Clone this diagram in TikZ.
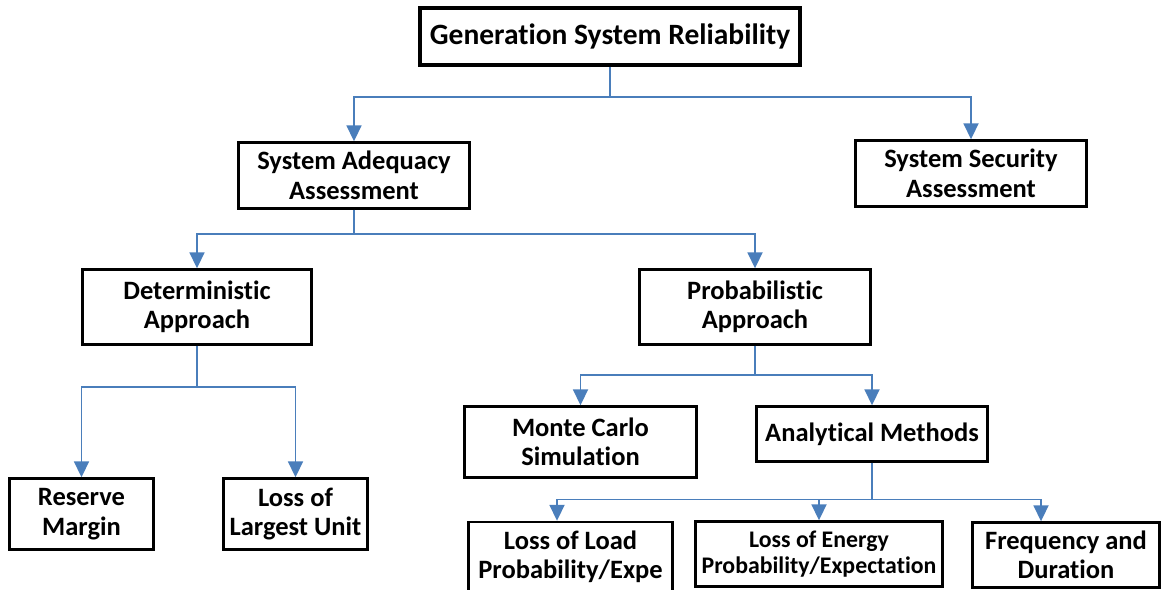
\documentclass[tikz,border=0pt]{standalone}
\usepackage{fontspec}
\setmainfont{Carlito}[Ligatures={NoCommon}]
\usetikzlibrary{arrows.meta}
\definecolor{linkblue}{HTML}{4A7EBB}
\begin{document}
\begin{tikzpicture}[x=1pt,y=-1pt,
  box/.style={draw=black, line width=2.4pt, fill=white, align=center,
    inner sep=0pt, font=\fontsize{26.5}{29.5}\selectfont\bfseries},
  conn/.style={draw=linkblue, line width=1.8pt,
    -{Triangle[length=16pt,width=15pt]}},
  link/.style={draw=linkblue, line width=1.8pt}]
\useasboundingbox (0,0) rectangle (1166,589);

% tree of boxes
\node[box, line width=3.4pt, minimum width=380pt, minimum height=57pt,
      font=\fontsize{29.5}{33}\selectfont\bfseries]
  (root) at (610,36.5) {Generation System Reliability};
\node[box, minimum width=231pt, minimum height=66pt] (saa) at (354,175.5) {System Adequacy\\Assessment};
\node[box, minimum width=231pt, minimum height=66pt] (ssa) at (971,173.5) {System Security\\Assessment};
\node[box, minimum width=229pt, minimum height=75pt] (det) at (197,307) {Deterministic\\Approach};
\node[box, minimum width=231pt, minimum height=75pt] (prob) at (755,307) {Probabilistic\\Approach};
\node[box, minimum width=232pt, minimum height=71pt] (mc) at (580.5,442) {Monte Carlo\\Simulation};
\node[box, minimum width=231pt, minimum height=55pt] (am) at (872,434) {Analytical Methods};
\node[box, minimum width=144pt, minimum height=71pt] (rm) at (81.5,514) {Reserve\\Margin};
\node[box, minimum width=144pt, minimum height=71pt] (llu) at (295.5,514) {Loss of\\Largest Unit};
\node[box, minimum width=204pt, minimum height=70pt] (lolp) at (570.5,557) {Loss of Load\\Probability/Expe};
\node[box, minimum width=247pt, minimum height=65pt,
      font=\fontsize{23.8}{26}\selectfont\bfseries] (loee) at (819,554) {Loss of Energy\\Probability/Expectation};
\node[box, minimum width=187pt, minimum height=65pt] (fd) at (1066,555) {Frequency and\\Duration};

% branching points of the connectors
\coordinate (b1) at (610,97);
\coordinate (b2) at (354,234);
\coordinate (b3) at (197,387);
\coordinate (b4) at (755,375);
\coordinate (b5) at (872,499.5);

\draw[link] (root.south) -- (b1);
\draw[conn] (b1) -| (saa.north);
\draw[conn] (b1) -| (ssa.north);

\draw[link] (saa.south) -- (b2);
\draw[conn] (b2) -| (det.north);
\draw[conn] (b2) -| (prob.north);

\draw[link] (det.south) -- (b3);
\draw[conn] (b3) -| (rm.north);
\draw[conn] (b3) -| (llu.north);

\draw[link] (prob.south) -- (b4);
\draw[conn] (b4) -| (mc.north);
\draw[conn] (b4) -| (am.north);

\draw[link] (am.south) -- (b5);
\draw[conn] (b5) -| ([xshift=-13.5pt]lolp.north);
\draw[conn] (b5) -| (loee.north);
\draw[conn] (b5) -| ([xshift=-25pt]fd.north);
\end{tikzpicture}
\end{document}
